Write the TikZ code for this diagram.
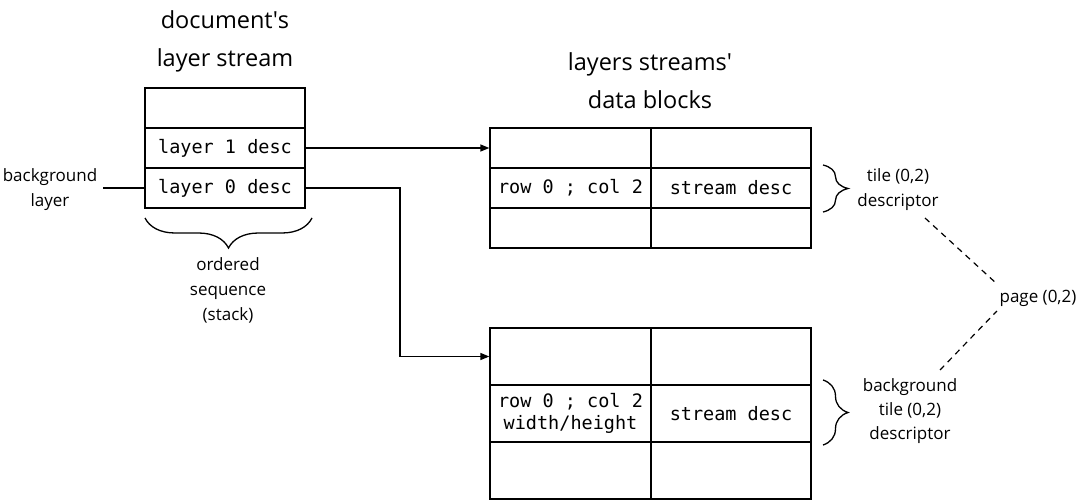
\documentclass[tikz,border=0pt]{standalone}
\usepackage{fontspec}
\setmainfont{Open Sans}
\newfontfamily\monof{DejaVu Sans Mono}
\usetikzlibrary{decorations.pathreplacing,arrows.meta,calc}
\begin{document}
\begin{tikzpicture}[x=1pt,y=-1pt,
  line width=1.3pt,
  cell/.style={draw, line width=1.3pt, inner sep=0pt, minimum width=160pt, minimum height=40pt,
    font=\monof\fontsize{18.5}{22}\selectfont, align=center},
  tallcell/.style={cell, minimum height=57pt},
  title/.style={font=\fontsize{23.5}{38}\selectfont, align=center, inner sep=0pt},
  lab/.style={font=\fontsize{17}{25}\selectfont, align=center, inner sep=0pt},
  conn/.style={-{Triangle[length=9pt,width=7pt]}},
  brc/.style={decorate, decoration={brace, amplitude=#1, aspect=0.5}},
  dsh/.style={dash pattern=on 6pt off 5pt}
]
\useasboundingbox (0,0) rectangle (1092,500);

% left stack
\node[cell] (s0) at (225,108) {};
\node[cell] (l1) at (225,148) {layer 1 desc};
\node[cell] (l0) at (225,188) {layer 0 desc};

\node[title] (t1) at (225,41) {document\textquotesingle s\\layer stream};
\node[title] (t2) at (650,81) {layers streams\textquotesingle\\data blocks};

\node[lab] (bg) at (50,190) {background\\layer};
\coordinate (bgs) at (103,188);
\draw (bgs) -- (l0.west);

% stack brace
\draw[brc=30pt] (312,218) -- (145,218);
\node[lab] (ord) at (228,290) {ordered\\sequence\\(stack)};

% top table
\node[cell, minimum width=161pt] (a11) at (570.5,148) {};
\node[cell] (a12) at (731,148) {};
\node[cell, minimum width=161pt] (a21) at (570.5,188) {row 0 ; col 2};
\node[cell] (a22) at (731,188) {stream desc};
\node[cell, minimum width=161pt] (a31) at (570.5,228) {};
\node[cell] (a32) at (731,228) {};

% bottom table
\node[tallcell, minimum width=161pt] (b11) at (570.5,356.5) {};
\node[tallcell] (b12) at (731,356.5) {};
\node[tallcell, minimum width=161pt] (b21) at (570.5,413.5) {row 0 ; col 2\\width/height};
\node[tallcell] (b22) at (731,413.5) {stream desc};
\node[tallcell, minimum width=161pt] (b31) at (570.5,470.5) {};
\node[tallcell] (b32) at (731,470.5) {};

% connectors
\draw[conn] (l1.east) -- (a11.west);
\draw[conn] (l0.east) -- (400,188) |- (b11.west);

% right braces
\draw[brc=25pt] (823,165) -- (823,212);
\draw[brc=25pt] (823,380) -- (823,445);

\node[lab] (td) at (898,190) {tile (0,2)\\descriptor};
\node[lab, font=\fontsize{17}{24}\selectfont] (btd) at (910,411) {background\\tile (0,2)\\descriptor};
\node[lab] (pg) at (1038,298) {page (0,2)};

\coordinate (d1) at (925,218);
\coordinate (d2) at (940,370);
\draw[dsh, line width=1.2pt] (d1) -- ($(pg.west)+(-3,-15)$);
\draw[dsh, line width=1.2pt] (d2) -- ($(pg.west)+(-2,13)$);
\end{tikzpicture}
\end{document}
